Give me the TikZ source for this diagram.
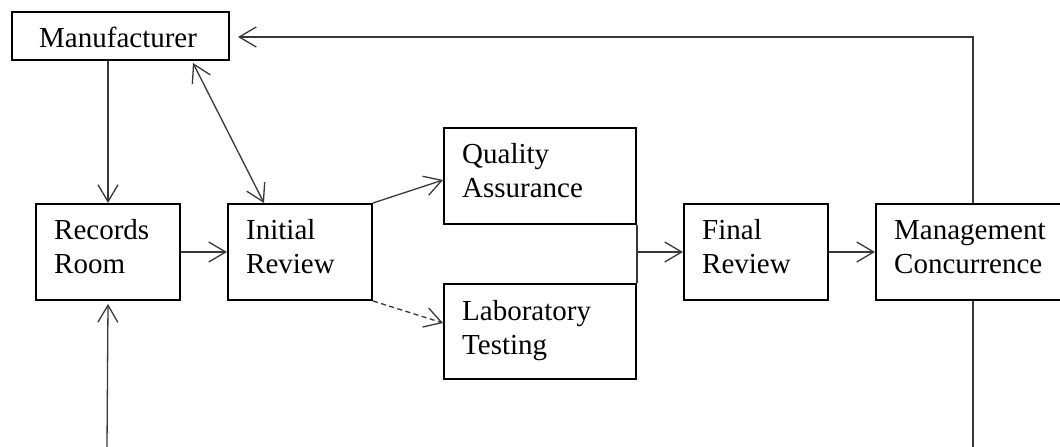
\documentclass[tikz,border=0pt]{standalone}
\usepackage{fontspec}
\setmainfont{Liberation Serif}
\usetikzlibrary{arrows.meta}
\begin{document}
\begin{tikzpicture}[x=1pt,y=-1pt,
  stepbox/.style={draw=black,line width=2pt,inner sep=0pt,anchor=north west},
  boxtext/.style={anchor=north west,inner sep=0pt,align=left,
    font=\fontsize{29}{34}\selectfont},
  link/.style={draw=black!78,line width=1.3pt},
  arr/.style={link,-{Straight Barb[length=17pt,width=20pt]}},
  biarr/.style={link,{Straight Barb[length=17pt,width=20pt]}-{Straight Barb[length=17pt,width=20pt]}},
  dasharr/.style={arr,dash pattern=on 5pt off 3.5pt}]
\useasboundingbox (0,0) rectangle (1060,447);

% boxes
\node[stepbox,minimum width=217,minimum height=48] (man) at (11,11) {};
\node[stepbox,minimum width=144,minimum height=96] (rec) at (35,203) {};
\node[stepbox,minimum width=144,minimum height=96] (ini) at (227,203) {};
\node[stepbox,minimum width=192,minimum height=96] (qa)  at (443,127) {};
\node[stepbox,minimum width=192,minimum height=95] (lab) at (443,283) {};
\node[stepbox,minimum width=144,minimum height=96] (fin) at (683,203) {};
\node[stepbox,minimum width=190,minimum height=96] (mgt) at (875,203) {};

% box labels
\node[boxtext] (man-t) at ([shift={(28pt,-12.8pt)}]man.north west) {\strut Manufacturer};
\node[boxtext] (rec-t) at ([shift={(19pt,-12.2pt)}]rec.north west) {\strut Records\\\strut Room};
\node[boxtext] (ini-t) at ([shift={(19pt,-12.2pt)}]ini.north west) {\strut Initial\\\strut Review};
\node[boxtext] (qa-t)  at ([shift={(19pt,-12.2pt)}]qa.north west)  {\strut Quality\\\strut Assurance};
\node[boxtext] (lab-t) at ([shift={(19pt,-13.2pt)}]lab.north west) {\strut Laboratory\\\strut Testing};
\node[boxtext] (fin-t) at ([shift={(19pt,-12.2pt)}]fin.north west) {\strut Final\\\strut Review};
\node[boxtext] (mgt-t) at ([shift={(19pt,-12.2pt)}]mgt.north west) {\strut Management\\\strut Concurrence};

% free ends of the loop lines
\coordinate (loopL) at (107,447);
\coordinate (loopR) at (973,447);
\coordinate (topR)  at (973,37);
\coordinate (topL)  at (238,37);

% connectors
\draw[arr] (rec.north |- man.south) -- (rec.north);
\draw[arr] (loopL) -- ([yshift=-3pt]rec.south);
\draw[arr] (rec.east) -- (ini.west);
\draw[biarr] ([shift={(72.5pt,-2pt)}]man.south) -- ([xshift=-36pt]ini.north);
\draw[arr] (ini.north east) -- ([yshift=-4pt]qa.west);
\draw[dasharr] (ini.south east) -- ([yshift=8.5pt]lab.west);
\draw[link] (qa.south east) -- (lab.north east);
\draw[arr] (qa.east |- fin.west) -- (fin.west);
\draw[arr] (fin.east) -- (mgt.west);
\draw[arr] (topR |- mgt.north) -- (topR) -- (topL);
\draw[link] (loopR |- mgt.south) -- (loopR);
\end{tikzpicture}
\end{document}
